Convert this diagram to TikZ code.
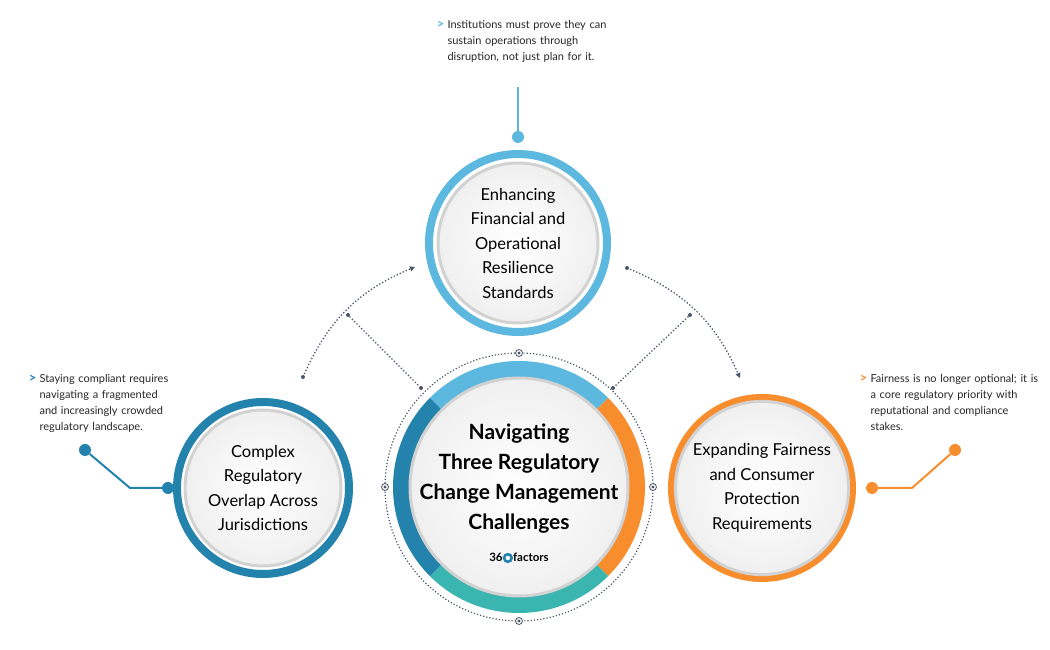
\documentclass[tikz,border=0pt]{standalone}
\usepackage{fontspec}
\setmainfont{Lato}
\usetikzlibrary{arrows.meta,positioning,calc}
\definecolor{lblue}{HTML}{5DB8DF}
\definecolor{dblue}{HTML}{2383AC}
\definecolor{orng}{HTML}{F88D2E}
\definecolor{teal}{HTML}{3BB5AF}
\definecolor{dotgray}{HTML}{4A5568}
\begin{document}
\begin{tikzpicture}[x=1pt,y=1pt,
    ring/.style={line width=8pt},
    face/.style={circle,inner color=white,outer color=gray!12,draw=gray!35,line width=3pt,align=center,text=black},
    title/.style={font=\fontsize{16.5}{24.5}\selectfont,align=center},
    note/.style={font=\fontsize{11}{16}\selectfont,align=left,text width=180pt,anchor=north west,text=black!85},
    link/.style={dotgray,dotted,line width=1.3pt},
    knob/.style={circle,fill,inner sep=0pt,minimum size=12pt},
    pin/.style={circle,fill=dotgray,inner sep=0pt,minimum size=4pt}]
  \useasboundingbox (0,0) rectangle (1050,650);
  % circles
  \coordinate (T) at (518,407);
  \coordinate (L) at (263,162);
  \coordinate (R) at (762,162);
  \coordinate (C) at (519,163);
  \draw[ring,lblue] (T) circle (89);
  \draw[ring,dblue] (L) circle (86);
  \draw[ring,orng] (R) circle (90);
  \node[face,minimum size=160pt,title] (top) at (T) {Enhancing\\Financial and\\Operational\\Resilience\\Standards};
  \node[face,minimum size=156pt,title] (left) at (L) {Complex\\Regulatory\\Overlap Across\\Jurisdictions};
  \node[face,minimum size=160pt,title] (right) at (R) {Expanding Fairness\\and Consumer\\Protection\\Requirements};
  % centre
  \draw[dotgray,dotted,line width=1.2pt] (C) circle (134);
  \foreach \a/\c in {45/lblue,-45/orng,-135/teal,135/dblue}
    \fill[\c] ($(C)+(\a:126)$) arc (\a:\a+90:126) -- ($(C)+(\a+90:110)$) arc (\a+90:\a:110) -- cycle;
  \node[face,minimum size=218pt] (mid) at (C) {};
  \node[font=\bfseries\fontsize{21}{30}\selectfont,align=center] (midtext) at ($(C)+(0,8)$) {Navigating\\Three Regulatory\\Change Management\\Challenges};
  \node[below=12pt of midtext,font=\bfseries\fontsize{11.5}{13}\selectfont] (logo) {36\tikz[baseline=-3.5pt]{\fill[dblue] (0,0) circle (5.2);\fill[white] (0,0) circle (2.2);}factors};
  \foreach \a [count=\i] in {90,0,-90,180}{
    \node[circle,draw=dotgray,fill=white,line width=0.8pt,minimum size=7pt,inner sep=0pt] (m\i) at ($(C)+(\a:134)$) {};
    \fill[dotgray] (m\i) circle (1.6);}
  % dotted connectors
  \coordinate (la) at (303,273);
  \coordinate (lb) at (415,383);
  \coordinate (ra) at (627,382);
  \coordinate (rb) at (740,272);
  \node[pin] (lp) at (348,335) {};
  \node[pin] (rp) at (690,335) {};
  \node[pin] (lq) at (421,262) {};
  \node[pin] (rq) at (613,262) {};
  \draw[link,-{Triangle[length=5pt,width=5pt]}] (la) to[bend left=22] (lb);
  \draw[link,-{Triangle[length=5pt,width=5pt]}] (ra) to[bend left=22] (rb);
  \fill[dotgray] (la) circle (2) (ra) circle (2);
  \draw[link] (lp) -- (lq);
  \draw[link] (rp) -- (rq);
  % callouts
  \node[knob,lblue] (tk) at (518,513) {};
  \coordinate (te) at (518,563);
  \draw[lblue,line width=2pt] (te) -- (tk);
  \node[knob,dblue] (lk1) at (85,200) {};
  \node[knob,dblue] (lk2) at (168,162) {};
  \draw[dblue,line width=2pt] (lk1) -- (130,162) -- (lk2);
  \node[knob,orng] (rk1) at (955,200) {};
  \node[knob,orng] (rk2) at (872,162) {};
  \draw[orng,line width=2pt] (rk1) -- (912,162) -- (rk2);
  \node[note] (tn) at (444,633) {Institutions must prove they can\\sustain operations through\\disruption, not just plan for it.};
  \node[note] (ln) at (36,279) {Staying compliant requires\\navigating a fragmented\\and increasingly crowded\\regulatory landscape.};
  \node[note] (rn) at (867,279) {Fairness is no longer optional; it is\\a core regulatory priority with\\reputational and compliance\\stakes.};
  \foreach \n/\c in {tn/lblue,ln/dblue,rn/orng}
    \node[text=\c,font=\bfseries\fontsize{13}{13}\selectfont,anchor=east] at ([xshift=4pt,yshift=-8pt]\n.north west) {\textgreater};
\end{tikzpicture}
\end{document}
